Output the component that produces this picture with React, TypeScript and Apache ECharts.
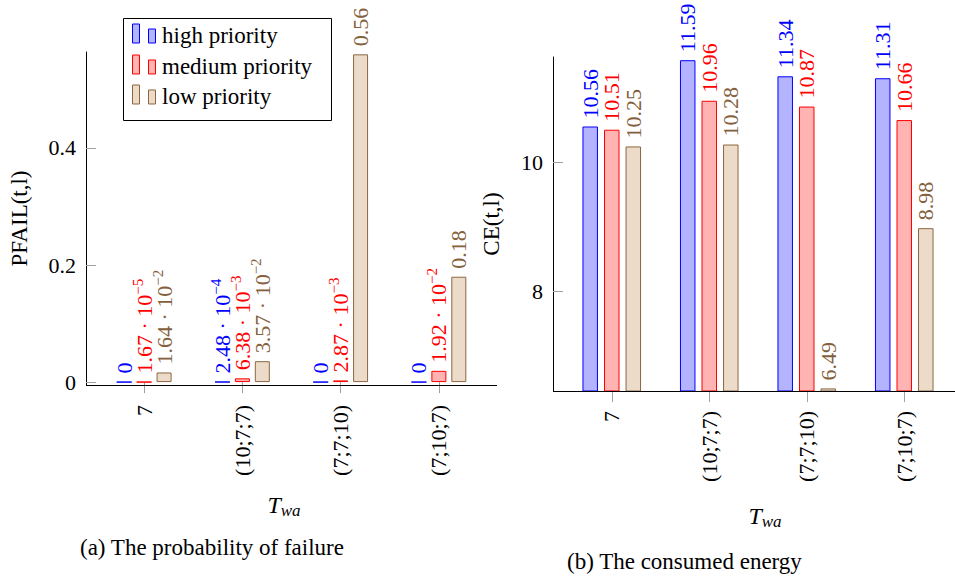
import React, { useEffect, useRef } from "react";
import * as echarts from "echarts";

const categories = ["7", "(10;7;7)", "(7;7;10)", "(7;10;7)"];
const seriesNames = ["high priority", "medium priority", "low priority"];
const pfailHigh = [0, 2.48e-4, 0, 0];
const pfailMedium = [1.67e-5, 6.38e-3, 2.87e-3, 1.92e-2];
const pfailLow = [1.64e-2, 3.57e-2, 0.56, 0.18];
const ceHigh = [10.56, 11.59, 11.34, 11.31];
const ceMedium = [10.51, 10.96, 10.87, 10.66];
const ceLow = [10.25, 10.28, 6.49, 8.98];
const pfailTicks = [0, 0.2, 0.4];
const ceTicks = [8, 10];

const FONT = "Liberation Serif";
const LINE = ["#0000ff", "#ff0000", "#8b6743"];
const FILL = ["#b3b3ff", "#ffb3b3", "#ecdbc8"];
const TEXTC = ["#0000ff", "#ff0000", "#84603c"];
const TICKC = "#a0a0a0";

function sciLabel(v: number): string {
  if (v === 0) return "{m|0}";
  if (v >= 0.1) return `{m|${v.toFixed(2)}}`;
  const e = Math.floor(Math.log10(v) + 1e-9);
  const m = v / Math.pow(10, e);
  return `{m|${m.toFixed(2)} · 10}{e|−${-e}}`;
}

function richFor(color: string) {
  return {
    m: { fontSize: 22, fontFamily: FONT, color, lineHeight: 22 },
    e: { fontSize: 15, fontFamily: FONT, color, lineHeight: 15, padding: [0, 0, 13, 0] },
  };
}

function barSeries(
  idx: number,
  grid: number,
  data: number[],
  fmt: (v: number) => string,
  barWidth: number,
  barGap: string
) {
  return {
    type: "bar",
    name: seriesNames[idx],
    xAxisIndex: grid,
    yAxisIndex: grid,
    data,
    barWidth,
    barGap,
    itemStyle: { color: FILL[idx], borderColor: LINE[idx], borderWidth: 1 },
    label: {
      show: true,
      position: "top",
      rotate: 90,
      align: "left",
      verticalAlign: "middle",
      distance: 8,
      fontFamily: FONT,
      fontSize: 22,
      color: TEXTC[idx],
      formatter: (p: any) => fmt(p.value),
      rich: richFor(TEXTC[idx]),
    },
  };
}

function xAxisFor(grid: number) {
  return {
    gridIndex: grid,
    type: "category",
    data: categories,
    axisLine: { show: false },
    axisTick: { show: true, alignWithLabel: true, length: 11, lineStyle: { color: TICKC } },
    axisLabel: { rotate: 90, margin: 20, fontSize: 22, color: "#000", fontFamily: FONT, interval: 0 },
    splitLine: { show: false },
  };
}

function yAxisFor(grid: number, min: number, max: number, offset: number, ticks: number[], name: string, nameGap: number) {
  return {
    gridIndex: grid,
    type: "value",
    min,
    max,
    offset,
    splitLine: { show: false },
    axisLine: { show: true, lineStyle: { color: "#000", width: 1 } },
    axisTick: { show: true, inside: true, length: 10, customValues: ticks, lineStyle: { color: TICKC } },
    axisLabel: { customValues: ticks, fontSize: 22, color: "#000", fontFamily: FONT, margin: 10 },
    name,
    nameLocation: "middle",
    nameRotate: 90,
    nameGap,
    nameTextStyle: { fontSize: 23, color: "#000", fontFamily: FONT },
  };
}

function legendGraphic() {
  const rows = [37, 68, 98];
  const children: any[] = [
    { type: "rect", shape: { x: 123.5, y: 18.5, width: 208, height: 102 }, style: { fill: "#fff", stroke: "#000", lineWidth: 1 } },
  ];
  rows.forEach((cy, i) => {
    const bottom = cy + 6;
    children.push({ type: "rect", shape: { x: 132.5, y: bottom - 19, width: 7, height: 19 }, style: { fill: FILL[i], stroke: LINE[i], lineWidth: 1 } });
    children.push({ type: "rect", shape: { x: 148.5, y: bottom - 14, width: 7, height: 14 }, style: { fill: FILL[i], stroke: LINE[i], lineWidth: 1 } });
    children.push({ type: "text", x: 162, y: cy - 13, style: { text: seriesNames[i], fontFamily: FONT, fontSize: 23, fill: "#000" } });
  });
  return { type: "group", z: 100, children };
}

function twa(x: number, y: number) {
  return {
    type: "text",
    x,
    y,
    style: {
      text: "{T|T}{s|wa}",
      align: "center",
      verticalAlign: "middle",
      fontFamily: FONT,
      rich: {
        T: { fontSize: 24, fontStyle: "italic", fontFamily: FONT, fill: "#000", color: "#000" },
        s: { fontSize: 17, fontStyle: "italic", fontFamily: FONT, fill: "#000", color: "#000", padding: [11, 0, 0, 0] },
      },
    },
  };
}

export default function App() {
  const ref = useRef<HTMLDivElement>(null);
  useEffect(() => {
    if (!ref.current) return;
    const chart = echarts.init(ref.current, null, { renderer: "svg" });
    const option: any = {
      animation: false,
      backgroundColor: "#fff",
      grid: [
        { left: 95, top: 52, width: 393, height: 333 },
        { left: 563, top: 57, width: 390, height: 334 },
      ],
      xAxis: [xAxisFor(0), xAxisFor(1)],
      yAxis: [
        yAxisFor(0, -0.005, 0.564, 9, pfailTicks, "PFAIL(t,l)", 55),
        yAxisFor(1, 6.45, 11.64, 10, ceTicks, "CE(t,l)", 50),
      ],
      series: [
        barSeries(0, 0, pfailHigh, sciLabel, 15, "33%"),
        barSeries(1, 0, pfailMedium, sciLabel, 15, "33%"),
        barSeries(2, 0, pfailLow, sciLabel, 15, "33%"),
        barSeries(0, 1, ceHigh, (v) => `${v.toFixed(2)}`, 15.5, "39%"),
        barSeries(1, 1, ceMedium, (v) => `${v.toFixed(2)}`, 15.5, "39%"),
        barSeries(2, 1, ceLow, (v) => `${v.toFixed(2)}`, 15.5, "39%"),
      ],
      graphic: [
        { type: "line", shape: { x1: 86, y1: 385.5, x2: 497, y2: 385.5 }, style: { stroke: "#000", lineWidth: 1 }, z: 50 },
        { type: "line", shape: { x1: 553, y1: 391.5, x2: 955, y2: 391.5 }, style: { stroke: "#000", lineWidth: 1 }, z: 50 },
        legendGraphic(),
        twa(284, 505),
        twa(765, 516),
        { type: "text", x: 80, y: 536, style: { text: "(a) The probability of failure", fontFamily: FONT, fontSize: 23, fill: "#000" } },
        { type: "text", x: 567, y: 550, style: { text: "(b) The consumed energy", fontFamily: FONT, fontSize: 23, fill: "#000" } },
      ],
    };
    chart.setOption(option);
    return () => chart.dispose();
  }, []);
  return <div ref={ref} style={{ position: "fixed", left: 0, top: 0, width: 955, height: 579 }} />;
}
